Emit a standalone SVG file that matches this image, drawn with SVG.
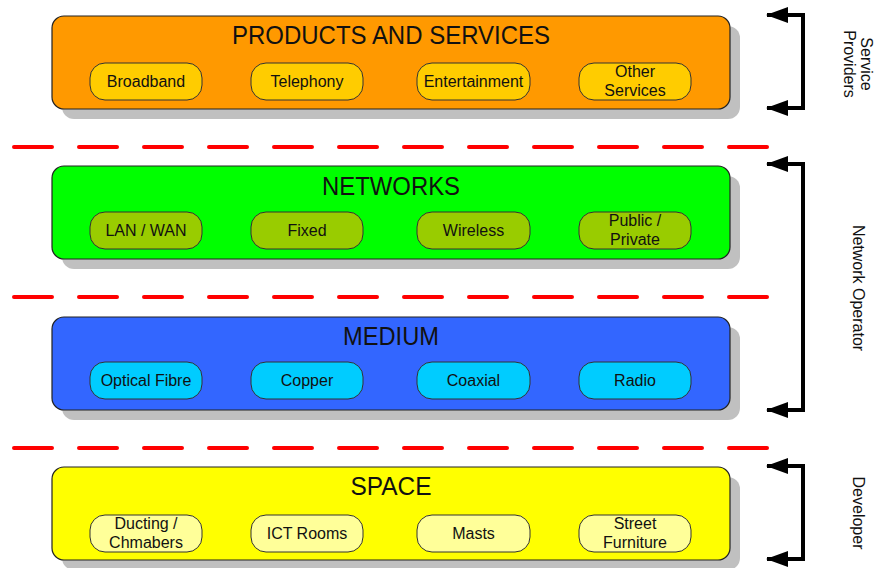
<svg xmlns="http://www.w3.org/2000/svg" width="875" height="568" viewBox="0 0 875 568">
<defs>
<style>
.shadow{fill:#c0c0c0}
.box{stroke:#222;stroke-width:1.2}
.pill{stroke:#333;stroke-width:1}
.title{font-family:"Liberation Sans",Arial,sans-serif;font-size:26px;fill:#111;text-anchor:middle}
.lbl{font-family:"Liberation Sans",Arial,sans-serif;font-size:16px;fill:#111;text-anchor:middle}
.side{font-family:"Liberation Sans",Arial,sans-serif;font-size:16px;fill:#111;text-anchor:middle}
.dash{stroke:#ff0000;stroke-width:4;stroke-linecap:round;stroke-dasharray:38 27;fill:none}
.brk{stroke:#000;stroke-width:4;fill:none;stroke-linejoin:miter}
</style>
<marker id="ah" viewBox="0 0 22 16" refX="21" refY="8" markerWidth="22" markerHeight="16" markerUnits="userSpaceOnUse" orient="auto-start-reverse">
<path d="M0,0 L22,8 L0,16 z" fill="#000"/>
</marker>
</defs>
<rect width="875" height="568" fill="#fff"/>

<g id="layer-products">
<rect class="shadow" x="62" y="26" width="678" height="93" rx="12"/>
<rect class="box" x="52" y="16" width="678" height="93" rx="12" fill="#ff9900"/>
<text class="title" x="391" y="44" textLength="318" lengthAdjust="spacingAndGlyphs">PRODUCTS AND SERVICES</text>
<g id="p-broadband"><rect class="pill" x="90" y="63" width="112" height="37" rx="15" fill="#ffcc00"/><text class="lbl" x="146" y="87">Broadband</text></g>
<g id="p-telephony"><rect class="pill" x="251" y="63" width="112" height="37" rx="15" fill="#ffcc00"/><text class="lbl" x="307" y="87">Telephony</text></g>
<g id="p-entertainment"><rect class="pill" x="417" y="63" width="113" height="37" rx="15" fill="#ffcc00"/><text class="lbl" x="473.5" y="87">Entertainment</text></g>
<g id="p-other"><rect class="pill" x="579" y="63" width="112" height="37" rx="15" fill="#ffcc00"/><text class="lbl" x="635" y="77">Other</text><text class="lbl" x="635" y="96">Services</text></g>
</g>

<g id="layer-networks">
<rect class="shadow" x="62" y="176" width="678" height="93" rx="12"/>
<rect class="box" x="52" y="166" width="678" height="93" rx="12" fill="#00ff00"/>
<text class="title" x="391" y="195" textLength="138" lengthAdjust="spacingAndGlyphs">NETWORKS</text>
<g id="n-lanwan"><rect class="pill" x="90" y="212" width="112" height="37" rx="15" fill="#99cc00"/><text class="lbl" x="146" y="236">LAN / WAN</text></g>
<g id="n-fixed"><rect class="pill" x="251" y="212" width="112" height="37" rx="15" fill="#99cc00"/><text class="lbl" x="307" y="236">Fixed</text></g>
<g id="n-wireless"><rect class="pill" x="417" y="212" width="113" height="37" rx="15" fill="#99cc00"/><text class="lbl" x="473.5" y="236">Wireless</text></g>
<g id="n-public"><rect class="pill" x="579" y="212" width="112" height="37" rx="15" fill="#99cc00"/><text class="lbl" x="635" y="226">Public /</text><text class="lbl" x="635" y="245">Private</text></g>
</g>

<g id="layer-medium">
<rect class="shadow" x="62" y="327" width="678" height="93" rx="12"/>
<rect class="box" x="52" y="317" width="678" height="93" rx="12" fill="#3366ff"/>
<text class="title" x="391" y="345" textLength="96" lengthAdjust="spacingAndGlyphs">MEDIUM</text>
<g id="m-fibre"><rect class="pill" x="90" y="362" width="112" height="37" rx="15" fill="#00ccff"/><text class="lbl" x="146" y="386">Optical Fibre</text></g>
<g id="m-copper"><rect class="pill" x="251" y="362" width="112" height="37" rx="15" fill="#00ccff"/><text class="lbl" x="307" y="386">Copper</text></g>
<g id="m-coaxial"><rect class="pill" x="417" y="362" width="113" height="37" rx="15" fill="#00ccff"/><text class="lbl" x="473.5" y="386">Coaxial</text></g>
<g id="m-radio"><rect class="pill" x="579" y="362" width="112" height="37" rx="15" fill="#00ccff"/><text class="lbl" x="635" y="386">Radio</text></g>
</g>

<g id="layer-space">
<rect class="shadow" x="62" y="477" width="678" height="93" rx="12"/>
<rect class="box" x="52" y="467" width="678" height="93" rx="12" fill="#ffff00"/>
<text class="title" x="391" y="495" textLength="81" lengthAdjust="spacingAndGlyphs">SPACE</text>
<g id="s-ducting"><rect class="pill" x="90" y="515" width="112" height="37" rx="15" fill="#ffff99"/><text class="lbl" x="146" y="529">Ducting /</text><text class="lbl" x="146" y="548">Chmabers</text></g>
<g id="s-ict"><rect class="pill" x="251" y="515" width="112" height="37" rx="15" fill="#ffff99"/><text class="lbl" x="307" y="539">ICT Rooms</text></g>
<g id="s-masts"><rect class="pill" x="417" y="515" width="113" height="37" rx="15" fill="#ffff99"/><text class="lbl" x="473.5" y="539">Masts</text></g>
<g id="s-street"><rect class="pill" x="579" y="515" width="112" height="37" rx="15" fill="#ffff99"/><text class="lbl" x="635" y="529">Street</text><text class="lbl" x="635" y="548">Furniture</text></g>
</g>

<g id="connectors">
<line class="dash" x1="14" y1="147" x2="770" y2="147"/>
<line class="dash" x1="14" y1="297" x2="770" y2="297"/>
<line class="dash" x1="14" y1="448" x2="770" y2="448"/>
<path class="brk" d="M767 15 H803 V108 H767" marker-start="url(#ah)" marker-end="url(#ah)"/>
<path class="brk" d="M767 164 H803 V410 H767" marker-start="url(#ah)" marker-end="url(#ah)"/>
<path class="brk" d="M767 466 H803 V559 H767" marker-start="url(#ah)" marker-end="url(#ah)"/>
</g>

<g id="labels">
<text class="side" transform="translate(861,64) rotate(90)">Service</text>
<text class="side" transform="translate(844,64) rotate(90)">Providers</text>
<text class="side" transform="translate(853,288) rotate(90)">Network Operator</text>
<text class="side" transform="translate(853,513) rotate(90)">Developer</text>
</g>
</svg>
